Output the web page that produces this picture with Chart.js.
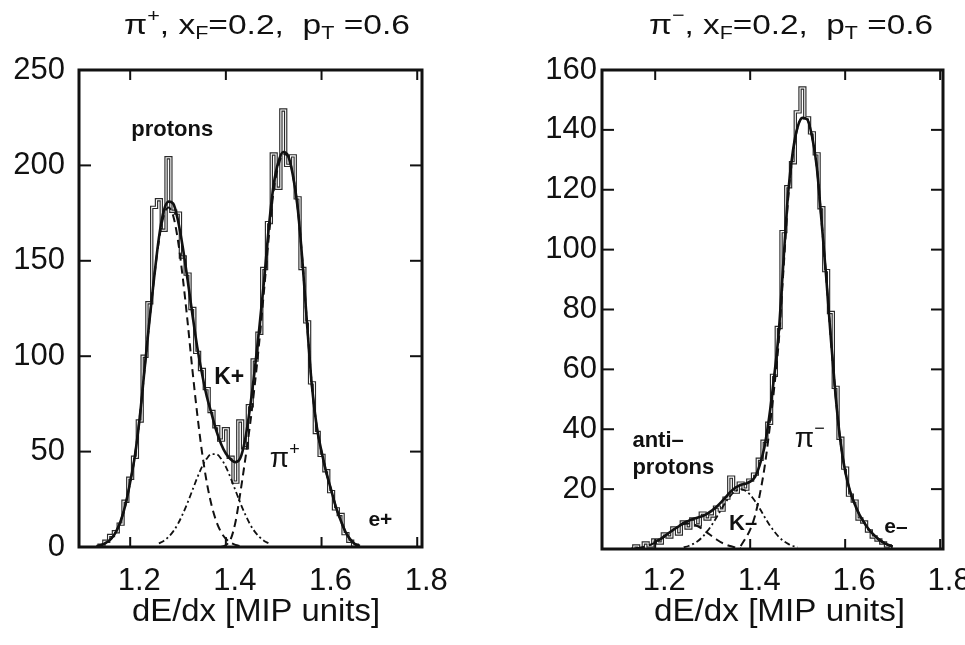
<!DOCTYPE html>
<html><head><meta charset="utf-8">
<script src="https://cdn.jsdelivr.net/npm/chart.js@4.4.1/dist/chart.umd.min.js"></script>
<style>
html,body{margin:0;padding:0;background:#fff;overflow:hidden;width:965px;height:645px;}
canvas{position:absolute;top:0;}
#c1{left:0}
#c2{left:480px}
</style></head><body>
<canvas id="c1" width="480" height="645"></canvas>
<canvas id="c2" width="500" height="645"></canvas>
<script>
// ---------- LEFT PANEL (pi+) ----------
const leftX = [1.13,1.14,1.15,1.16,1.17,1.18,1.19,1.20,1.21,1.22,
               1.23,1.24,1.25,1.26,1.27,1.28,1.29,1.30,1.31,1.32,
               1.33,1.34,1.35,1.36,1.37,1.38,1.39,1.40,1.41,1.42,
               1.43,1.44,1.45,1.46,1.47,1.48,1.49,1.50,1.51,1.52,
               1.53,1.54,1.55,1.56,1.57,1.58,1.59,1.60,1.61,1.62,
               1.63,1.64,1.65,1.66,1.67,1.68];
const leftHist = [0,1,3,6,8,12,24,36,47,66,
                  100,128,178,182,166,204,176,175,152,143,
                  125,102,93,83,71,63,56,62,47,34,
                  66,52,74,98,112,146,170,206,188,229,
                  200,205,183,146,118,86,60,48,40,29,
                  20,17,7,3,1,0];
const leftFit = [0.5,1,2.3,4.3,7.8,13.5,22,34,48,68,
                 93,118,141,162,176,181,180,171,157,140,
                 122,105,91,79,70,61,54,49,46,44.5,
                 46.5,56,72,92,115,140,168,190,202,207,
                 205,195,178,150,116,84,63,50,39,30,
                 21,14,8,4,1.5,0.5];
const protonX = leftX.slice(0,31);   // 1.13 .. 1.43
const protonY = [0.5,1.1,2.3,4.3,7.8,13.5,22,34,48,68,93,118,141,160.5,173.5,178,
                 173.5,160.5,141,118,93,70,50,34,22,13.5,7.8,4.3,2.3,1.1,0.5];
const kaonX = leftX.slice(13,37);    // 1.26 .. 1.49
const kaonY = [1.9,3.2,5.3,8.2,12.2,17.3,23.2,29.7,36.2,42,46.3,48.7,
               48.7,46.3,42,36.2,29.7,23.2,17.3,12.2,8.2,5.3,3.2,1.9];
const pionX = leftX.slice(26);       // 1.39 .. 1.68
const pionY = [0,1,4,13,28,45,63,84,108,135,163,187,200,206,205,
               195,178,150,116,84,63,50,39,30,21,14,8,4,1.5,0.5];
const leftXTicks = [1.2,1.4,1.6,1.8];
const leftYTicks = [0,50,100,150,200,250];

// ---------- RIGHT PANEL (pi-) ----------
const rightX = [1.15,1.16,1.17,1.18,1.19,1.20,1.21,1.22,1.23,1.24,
                1.25,1.26,1.27,1.28,1.29,1.30,1.31,1.32,1.33,1.34,
                1.35,1.36,1.37,1.38,1.39,1.40,1.41,1.42,1.43,1.44,
                1.45,1.46,1.47,1.48,1.49,1.50,1.51,1.52,1.53,1.54,
                1.55,1.56,1.57,1.58,1.59,1.60,1.61,1.62,1.63,1.64,
                1.65,1.66,1.67,1.68,1.69,1.70];
const rightHist = [0,1,0,2,1,3,2,5,4,7,
                   5,9,7,10,8,12,10,11,14,13,
                   17,24,19,22,20,23,25,30,36,42,
                   58,74,106,121,129,146,154,144,139,132,
                   114,93,79,54,37,27,18,16,10,9,
                   6,4,3,2,1,0];
const rightFitX = rightX.slice(5);   // 1.20 .. 1.70
const rightFit = [2.5,3.2,4.3,5.5,6.6,7.6,8.7,9.4,10,10.5,
                  11,11.8,12.9,14.2,15.8,17.6,19.3,20.6,21.4,21.8,
                  22.5,24,28,34,44,57,72,96,119,133,
                  141,144,143.5,138,128,110,91,70,51,36,
                  26,19.5,15,11.5,8.8,6.5,4.8,3.3,2.2,1.4,0.8];
const pimX = rightX.slice(23);       // 1.38 .. 1.70
const pimY = [1,3.5,6.5,11,18,27,39,53,69,93,117,132,141,144,143.5,138,128,
              110,91,70,51,36,26,19.5,15,11.5,8.8,6.5,4.8,3.3,2.2,1.4,0.8];
const kmX = rightX.slice(11,36);     // 1.26 .. 1.50
const kmY = [0.6,1,1.7,2.7,4.1,6,8.2,10.8,13.5,16,18.1,19.5,20,
             19.5,18.1,16,13.5,10.8,8.2,6,4.1,2.7,1.7,1,0.6];
const pbarX = rightX.slice(1,24);    // 1.16 .. 1.38
const pbarY = [0.3,0.5,0.9,1.4,2.1,3.1,4.2,5.4,6.6,7.6,8.3,8.5,
               8.3,7.6,6.6,5.4,4.2,3.1,2.1,1.4,0.9,0.5,0.3];
const rightXTicks = [1.2,1.4,1.6,1.8];
const rightYTicks = [20,40,60,80,100,120,140,160];

const AXIS_TITLE = 'dE/dx [MIP units]';
const FONT = "'Liberation Sans', Arial, Helvetica, sans-serif";
const INK = '#111';

function pts(xs, ys){ return xs.map((x,i)=>({x:x, y:ys[i]})); }

function drawRich(ctx, parts, x, y, targetW, align, base){
  ctx.textBaseline = base || 'alphabetic';
  ctx.textAlign = 'left';
  const f = p => (p[2]?'bold ':'') + p[1] + 'px ' + FONT;
  let w = 0;
  parts.forEach(p=>{ ctx.font = f(p); w += ctx.measureText(p[0]).width; });
  const s = targetW ? targetW / w : 1;
  let x0 = x;
  if (align === 'center') x0 = x - w*s/2;
  ctx.save();
  ctx.translate(x0, y);
  ctx.scale(s, 1);
  let cx = 0;
  parts.forEach(p=>{ ctx.font = f(p); ctx.fillText(p[0], cx, p[3]||0); cx += ctx.measureText(p[0]).width; });
  ctx.restore();
}

function makeTextPlugin(cfg){
  return {
    id: 'txt',
    afterDraw(chart){
      const ctx = chart.ctx, sx = chart.scales.x, sy = chart.scales.y;
      ctx.save();
      ctx.fillStyle = INK;
      drawRich(ctx, cfg.title, cfg.titleX, cfg.titleY, cfg.titleW);
      drawRich(ctx, [[AXIS_TITLE, 31, false, 0]], cfg.axX, cfg.axY, cfg.axW);
      cfg.notes.forEach(n=>{
        drawRich(ctx, n.parts, sx.getPixelForValue(n.x), sy.getPixelForValue(n.y), null, n.align, n.base);
      });
      ctx.restore();
    }
  };
}

const framePlugin = {
  id: 'frame',
  afterDraw(chart){
    const ctx = chart.ctx, a = chart.chartArea, sx = chart.scales.x, sy = chart.scales.y;
    ctx.save();
    ctx.strokeStyle = INK;
    ctx.lineWidth = 2;
    const line = (x1,y1,x2,y2)=>{ ctx.beginPath(); ctx.moveTo(x1,y1); ctx.lineTo(x2,y2); ctx.stroke(); };
    sx.ticks.forEach(t=>{
      const px = sx.getPixelForValue(t.value);
      line(px, a.bottom, px, a.bottom-10);
      line(px, a.top, px, a.top+10);
    });
    sy.ticks.forEach(t=>{
      const py = sy.getPixelForValue(t.value);
      line(a.left, py, a.left+12, py);
      line(a.right, py, a.right-12, py);
    });
    ctx.lineWidth = 3;
    ctx.strokeRect(a.left, a.top, a.right-a.left, a.bottom-a.top);
    ctx.restore();
  }
};

function buildChart(id, c){
  const tickFont = {family: FONT, size: 31};
  return new Chart(document.getElementById(id), {
    type: 'line',
    data: { datasets: c.datasets },
    options: {
      responsive: false,
      animation: false,
      events: [],
      layout: { padding: c.padding },
      plugins: { legend: {display:false}, tooltip: {enabled:false} },
      elements: { point: { radius: 0 } },
      scales: {
        x: {
          type: 'linear', min: c.xMin, max: c.xMax,
          afterBuildTicks: s => { s.ticks = c.xTicks.map(v=>({value:v})); },
          afterFit: s => { s.height = c.xH; },
          grid: { display:false, drawTicks:false },
          border: { display:false },
          ticks: { font: tickFont, color: INK, padding: c.xPad, labelOffset: 9, maxRotation: 0,
                   autoSkip: false, callback: v => Number(v).toFixed(1) }
        },
        y: {
          type: 'linear', min: c.yMin, max: c.yMax,
          afterBuildTicks: s => { s.ticks = c.yTicks.map(v=>({value:v})); },
          afterFit: s => { s.width = c.yW; },
          grid: { display:false, drawTicks:false },
          border: { display:false },
          ticks: { font: tickFont, color: INK, padding: c.yPad, autoSkip: false,
                   callback: v => String(v) }
        }
      }
    },
    plugins: [framePlugin, makeTextPlugin(c.text)]
  });
}

const fitStyle  = { borderColor: INK, borderWidth: 2.6, cubicInterpolationMode: 'monotone', fill: false, order: 0 };
const dashStyle = { borderColor: INK, borderWidth: 2, borderDash: [8,5], cubicInterpolationMode: 'monotone', fill: false, order: 1 };
const dotStyle  = { borderColor: INK, borderWidth: 1.8, borderDash: [6,3,2,3], cubicInterpolationMode: 'monotone', fill: false, order: 1 };
const histOuter = { borderColor: '#2a2a2a', borderWidth: 3.4, stepped: 'middle', fill: false, order: 4 };
const histInner = { borderColor: '#ffffff', borderWidth: 1.1, stepped: 'middle', fill: false, order: 3 };

buildChart('c1', {
  padding: {left:0, top:70, right:58, bottom:0},
  xMin: 1.093, xMax: 1.81, xTicks: leftXTicks, xH: 98, xPad: 16,
  yMin: 0, yMax: 250, yTicks: leftYTicks, yW: 79, yPad: 14,
  datasets: [
    Object.assign({ label:'fit', data: pts(leftX, leftFit) }, fitStyle),
    Object.assign({ label:'protons', data: pts(protonX, protonY) }, dashStyle),
    Object.assign({ label:'K+', data: pts(kaonX, kaonY) }, dotStyle),
    Object.assign({ label:'pi+', data: pts(pionX, pionY) }, dashStyle),
    Object.assign({ label:'data', data: pts(leftX, leftHist) }, histInner),
    Object.assign({ label:'data outline', data: pts(leftX, leftHist) }, histOuter)
  ],
  text: {
    title: [['π',28],['+',18,false,-12],[', x',28],['F',18,false,5],['=0.2,  p',28],['T',18,false,5],[' =0.6',28]],
    titleX: 124, titleY: 34, titleW: 286,
    axX: 132, axY: 621, axW: 248,
    notes: [
      { parts: [['protons',22,true]], x: 1.288, y: 218.5, align: 'center', base: 'middle' },
      { parts: [['K+',23,true]], x: 1.407, y: 89, align: 'center', base: 'middle' },
      { parts: [['π',28],['+',18,false,-12]], x: 1.492, y: 42, align: 'left', base: 'alphabetic' },
      { parts: [['e+',21,true]], x: 1.723, y: 14, align: 'center', base: 'middle' }
    ]
  }
});

buildChart('c2', {
  padding: {left:0, top:70, right:37, bottom:0},
  xMin: 1.088, xMax: 1.806, xTicks: rightXTicks, xH: 96, xPad: 14,
  yMin: 0, yMax: 160, yTicks: rightYTicks, yW: 122, yPad: 5,
  datasets: [
    Object.assign({ label:'fit', data: pts(rightFitX, rightFit) }, fitStyle),
    Object.assign({ label:'pi-', data: pts(pimX, pimY) }, dashStyle),
    Object.assign({ label:'K-', data: pts(kmX, kmY) }, dotStyle),
    Object.assign({ label:'antiprotons', data: pts(pbarX, pbarY) }, dashStyle),
    Object.assign({ label:'data', data: pts(rightX, rightHist) }, histInner),
    Object.assign({ label:'data outline', data: pts(rightX, rightHist) }, histOuter)
  ],
  text: {
    title: [['π',28],['−',18,false,-13],[', x',28],['F',18,false,5],['=0.2,  p',28],['T',18,false,5],[' =0.6',28]],
    titleX: 169, titleY: 34, titleW: 284,
    axX: 174, axY: 621, axW: 251,
    notes: [
      { parts: [['anti–',22,true]], x: 1.152, y: 36, align: 'left', base: 'middle' },
      { parts: [['protons',22,true]], x: 1.152, y: 27, align: 'left', base: 'middle' },
      { parts: [['π',28],['−',18,false,-13]], x: 1.494, y: 34, align: 'left', base: 'alphabetic' },
      { parts: [['K–',22,true]], x: 1.385, y: 8.3, align: 'center', base: 'middle' },
      { parts: [['e–',21,true]], x: 1.707, y: 7.3, align: 'center', base: 'middle' }
    ]
  }
});
</script>
</body></html>
